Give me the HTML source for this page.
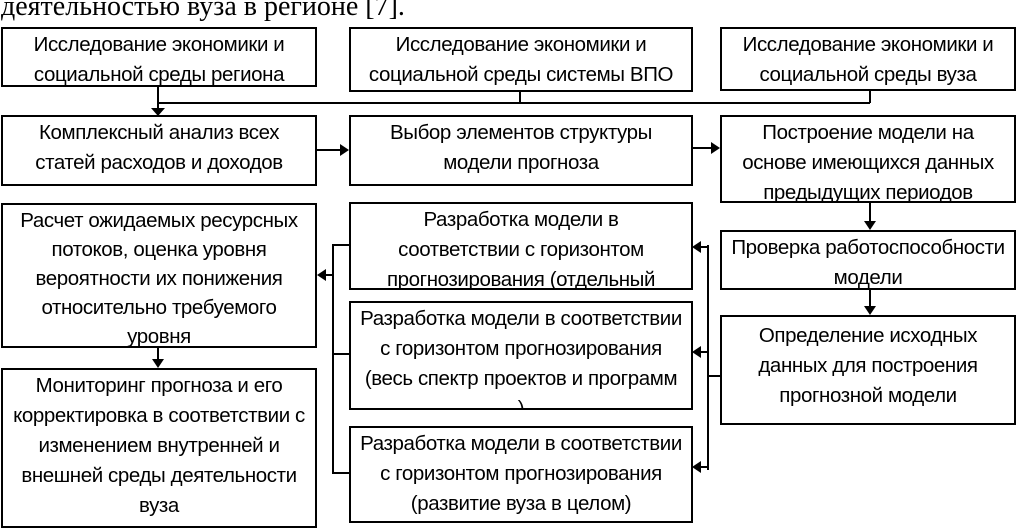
<!DOCTYPE html>
<html><head><meta charset="utf-8"><style>
body{margin:0;width:1018px;height:523px;position:relative;background:#fff;overflow:hidden;font-family:"Liberation Sans",sans-serif;}
.b{position:absolute;border:2px solid #000;box-sizing:border-box;text-align:center;font-size:20.5px;line-height:30px;padding-top:1px;overflow:hidden;color:#000;white-space:nowrap;letter-spacing:-0.4px}
.t{position:absolute;left:1px;top:-9px;font-family:"Liberation Serif",serif;font-size:28px;white-space:nowrap}
svg{position:absolute;left:0;top:0}
</style></head><body>
<div class="t">деятельностью вуза в регионе [7].</div>
<svg width="1018" height="523">
<g stroke="#000" stroke-width="2" fill="none">
<path d="M158 86V110M520 91V103M870 90V103M158 103H870"/>
<path d="M316 150H343M692 148H714"/>
<path d="M870 202V224M870 289V309"/>
<path d="M720 376H708M708 245V470M708 247H700M708 352H700M708 467H700"/>
<path d="M349 245H333V473H349M333 354H349M333 275H324"/>
<path d="M158 347V362"/>
</g>
<g fill="#000">
<polygon points="151,108 165,108 158,116"/>
<polygon points="340,144 340,156 349,150"/>
<polygon points="711,142 711,154 720,148"/>
<polygon points="864,221 876,221 870,230"/>
<polygon points="864,306 876,306 870,315"/>
<polygon points="701,241 701,253 692,247"/>
<polygon points="701,346 701,358 692,352"/>
<polygon points="701,461 701,473 692,467"/>
<polygon points="326,269 326,281 317,275"/>
<polygon points="152,359 164,359 158,368"/>
</g>
</svg>
<div class="b" style="left:1px;top:27px;width:316px;height:60px">Исследование экономики и<br>социальной среды региона</div>
<div class="b" style="left:349px;top:27px;width:344px;height:65px">Исследование экономики и<br>социальной среды системы ВПО</div>
<div class="b" style="left:720px;top:27px;width:296px;height:64px">Исследование экономики и<br>социальной среды вуза</div>
<div class="b" style="left:1px;top:115px;width:316px;height:71px">Комплексный анализ всех<br>статей расходов и доходов</div>
<div class="b" style="left:349px;top:115px;width:344px;height:71px">Выбор элементов структуры<br>модели прогноза</div>
<div class="b" style="left:720px;top:115px;width:296px;height:88px">Построение модели на<br>основе имеющихся данных<br>предыдущих периодов</div>
<div class="b" style="left:720px;top:230px;width:296px;height:60px">Проверка работоспособности<br>модели</div>
<div class="b" style="left:720px;top:315px;width:296px;height:110px;padding-top:4px">Определение исходных<br>данных для построения<br>прогнозной модели</div>
<div class="b" style="left:349px;top:202px;width:344px;height:88px">Разработка модели в<br>соответствии с горизонтом<br>прогнозирования (отдельный</div>
<div class="b" style="left:349px;top:301px;width:344px;height:109px">Разработка модели в соответствии<br>с горизонтом прогнозирования<br>(весь спектр проектов и программ<br>)</div>
<div class="b" style="left:349px;top:426px;width:344px;height:97px">Разработка модели в соответствии<br>с горизонтом прогнозирования<br>(развитие вуза в целом)</div>
<div class="b" style="left:1px;top:203px;width:316px;height:145px;line-height:29px">Расчет ожидаемых ресурсных<br>потоков, оценка уровня<br>вероятности их понижения<br>относительно требуемого<br>уровня</div>
<div class="b" style="left:1px;top:368px;width:316px;height:160px">Мониторинг прогноза и его<br>корректировка в соответствии с<br>изменением внутренней и<br>внешней среды деятельности<br>вуза</div>
</body></html>
